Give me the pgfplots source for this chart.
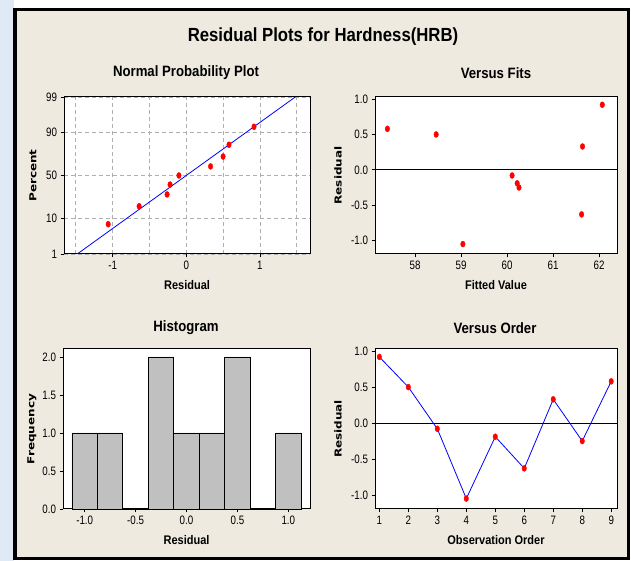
\documentclass[border=0pt]{standalone}
\usepackage{fontspec}
\setmainfont{Liberation Sans}[FakeStretch=0.88]
\newfontfamily\tickfont{Liberation Sans}[FakeStretch=0.8]
\newfontfamily\ylabfont{DejaVu Sans}
\usepackage{pgfplots}
\pgfplotsset{compat=1.18}
\definecolor{bgbeige}{RGB}{238,234,224}
\definecolor{barg}{RGB}{192,192,192}
\definecolor{leftblue}{RGB}{224,234,247}
\definecolor{gridg}{RGB}{175,175,175}

\pgfplotsset{
  mtb/.style={
    scale only axis,
    axis background/.style={fill=white},
    axis line style={black, line width=1pt},
    tick align=outside,
    xtick pos=left, ytick pos=left,
    major tick length=3.5pt,
    minor tick length=0pt,
    tick style={black, line width=0.8pt},
    tick label style={font=\tickfont\fontsize{12.2}{13}\selectfont},
    /pgf/number format/assume math mode=true,
    x label style={font=\fontsize{12.5}{14}\selectfont\bfseries, at={(axis description cs:0.5,-0.197)}, anchor=center},
    y label style={font=\ylabfont\fontsize{12}{13}\selectfont\bfseries, anchor=center},
  },
  dots/.style={only marks, mark=*, color=red, mark size=3pt, mark options={xscale=0.75, draw=red, fill=red}},
}

\begin{document}
\begin{tikzpicture}
\useasboundingbox (0pt,0pt) rectangle (631pt,561pt);
\fill[white] (0pt,0pt) rectangle (631pt,561pt);
\fill[leftblue] (0pt,0pt) rectangle (14pt,561pt);
\filldraw[fill=bgbeige, draw=black, line width=3.5pt] (15pt,2.5pt) rectangle (628.5pt,551.5pt);

\node[font=\fontsize{19}{21}\selectfont\bfseries] at (323pt,524pt) {Residual Plots for Hardness(HRB)};
\node[font=\fontsize{15}{17}\selectfont\bfseries] at (186pt,488pt) {Normal Probability Plot};
\node[font=\fontsize{15}{17}\selectfont\bfseries] at (496pt,488pt) {Versus Fits};
\node[font=\fontsize{15}{17}\selectfont\bfseries] at (186pt,233pt) {Histogram};
\node[font=\fontsize{15}{17}\selectfont\bfseries] at (495pt,233pt) {Versus Order};

% Normal probability plot
\begin{axis}[mtb,
  at={(64pt,307pt)}, anchor=south west,
  width=246pt, height=157pt,
  xmin=-1.66, xmax=1.68, ymin=-2.326, ymax=2.326,
  xtick={-1,0,1}, minor xtick={-1.5,-0.5,0.5,1.5},
  ytick={-2.326,-1.2816,0,1.2816,2.326}, yticklabels={1,10,50,90,99},
  grid=both,
  major grid style={gridg, dash pattern=on 4pt off 3pt, line width=0.6pt},
  minor grid style={gridg, dash pattern=on 4pt off 3pt, line width=0.6pt},
  xlabel={Residual},
  ylabel={\scalebox{1}[0.8]{Percent}},
  y label style={at={(axis description cs:-0.126,0.5)}},
]
\addplot[blue, line width=0.8pt] coordinates {(-1.48,-2.326) (1.48,2.326)};
\addplot[dots] coordinates {(-1.06,-1.443) (-0.64,-0.911) (-0.26,-0.562) (-0.22,-0.269) (-0.10,0) (0.33,0.269) (0.50,0.562) (0.58,0.911) (0.92,1.443)};
\end{axis}

% Versus fits
\begin{axis}[mtb,
  at={(375pt,307pt)}, anchor=south west,
  width=242pt, height=157pt,
  xmin=57.13, xmax=62.39, ymin=-1.19, ymax=1.03,
  xtick={58,59,60,61,62},
  ytick={-1,-0.5,0,0.5,1},
  yticklabel style={/pgf/number format/.cd, fixed, fixed zerofill, precision=1},
  xlabel={Fitted Value},
  ylabel={\scalebox{1}[0.8]{Residual}},
  y label style={at={(axis description cs:-0.153,0.5)}},
]
\addplot[black, line width=0.7pt] coordinates {(57.13,0) (62.39,0)};
\addplot[dots] coordinates {(57.40,0.58) (58.46,0.50) (59.04,-1.05) (60.11,-0.08) (60.22,-0.19) (60.26,-0.25) (61.62,-0.63) (61.64,0.33) (62.07,0.92)};
\end{axis}

% Histogram
\begin{axis}[mtb,
  at={(63pt,52pt)}, anchor=south west,
  width=247pt, height=160pt,
  xmin=-1.213, xmax=1.213, ymin=0, ymax=2.105,
  xtick={-1,-0.5,0,0.5,1},
  ytick={0,0.5,1,1.5,2},
  xticklabel style={/pgf/number format/.cd, fixed, fixed zerofill, precision=1},
  yticklabel style={/pgf/number format/.cd, fixed, fixed zerofill, precision=1},
  xlabel={Residual},
  x label style={at={(axis description cs:0.5,-0.194)}},
  ylabel={\scalebox{1}[0.8]{Frequency}},
  y label style={at={(axis description cs:-0.126,0.5)}},
  clip=false,
]
\addplot[ybar, bar width=0.25, fill=barg, draw=black, line width=0.8pt] coordinates {(-1.0,1) (-0.75,1) (-0.5,0) (-0.25,2) (0,1) (0.25,1) (0.5,2) (0.75,0) (1.0,1)};
% empty bins drawn as a thick base line
\addplot[draw=black, line width=2.4pt] coordinates {(-0.625,0) (-0.375,0)};
\addplot[draw=black, line width=2.4pt] coordinates {(0.625,0) (0.875,0)};
\end{axis}

% Versus order
\begin{axis}[mtb,
  at={(375pt,52pt)}, anchor=south west,
  width=242pt, height=160pt,
  xmin=0.85, xmax=9.2, ymin=-1.195, ymax=1.03,
  xtick={1,2,3,4,5,6,7,8,9},
  ytick={-1,-0.5,0,0.5,1},
  yticklabel style={/pgf/number format/.cd, fixed, fixed zerofill, precision=1},
  xlabel={Observation Order},
  x label style={at={(axis description cs:0.5,-0.194)}},
  ylabel={\scalebox{1}[0.8]{Residual}},
  y label style={at={(axis description cs:-0.153,0.5)}},
]
\addplot[black, line width=0.7pt] coordinates {(0.85,0) (9.2,0)};
\addplot[blue, line width=0.8pt] coordinates {(1,0.92) (2,0.50) (3,-0.08) (4,-1.05) (5,-0.19) (6,-0.63) (7,0.33) (8,-0.25) (9,0.58)};
\addplot[dots] coordinates {(1,0.92) (2,0.50) (3,-0.08) (4,-1.05) (5,-0.19) (6,-0.63) (7,0.33) (8,-0.25) (9,0.58)};
\end{axis}
\end{tikzpicture}
\end{document}
